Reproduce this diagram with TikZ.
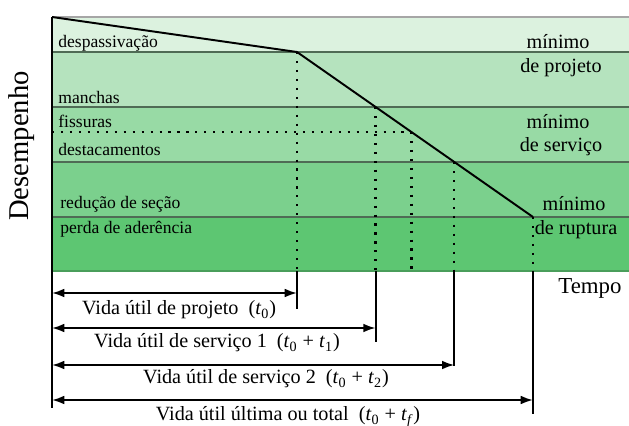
\documentclass[tikz,border=0pt]{standalone}
\usepackage{fontspec}
\setmainfont{Liberation Serif}
\usetikzlibrary{arrows.meta}
\definecolor{bandA}{HTML}{DCF2DF}
\definecolor{bandB}{HTML}{B5E3BE}
\definecolor{bandC}{HTML}{98DAA5}
\definecolor{bandD}{HTML}{7BD08D}
\definecolor{bandE}{HTML}{5DC672}
\definecolor{borderc}{HTML}{4F6B55}
\begin{document}
\begin{tikzpicture}[x=0.02cm,y=-0.02cm,
  bandborder/.style={draw=borderc,line width=0.9pt},
  curve/.style={draw=black,line width=1.1pt,line join=round},
  dotline/.style={draw=black,line width=1.3pt,dash pattern=on 1.2pt off 3.9pt},
  tick/.style={draw=black,line width=1.1pt},
  dimarrow/.style={draw=black,line width=1.1pt,{Latex[length=7pt,width=5pt]}-{Latex[length=7pt,width=5pt]}},
  leftlbl/.style={anchor=west,inner sep=0pt,font=\fontsize{10}{12}\selectfont},
  rightlbl/.style={inner sep=0pt,font=\fontsize{11.5}{13}\selectfont},
  dimlbl/.style={inner sep=0pt,font=\fontsize{11.5}{13}\selectfont}]
\useasboundingbox (0,0) rectangle (629,426);
% bands
\fill[bandA] (52,17) rectangle (629,52);
\fill[bandB] (52,52) rectangle (629,107);
\fill[bandC] (52,107) rectangle (629,162);
\fill[bandD] (52,162) rectangle (629,217);
\fill[bandE] (52,217) rectangle (629,271);
\draw[draw=gray!70,line width=0.9pt] (52,17) -- (629,17);
\draw[bandborder] (52,52) -- (629,52);
\draw[bandborder] (52,107) -- (629,107);
\draw[bandborder] (52,162) -- (629,162);
\draw[bandborder] (52,217) -- (629,217);
\draw[draw=bandE!80!black,line width=0.9pt] (52,271) -- (629,271);
% key points
\coordinate (p0) at (52,17);
\coordinate (p1) at (297,52);
\coordinate (q1) at (375.6,107);
\coordinate (qd) at (411.4,132);
\coordinate (q2) at (454.3,162);
\coordinate (p2) at (533,217);
\coordinate (h0) at (52,132);
\coordinate (b1) at (297,271);
\coordinate (b2) at (375.6,271);
\coordinate (bd) at (411.4,271);
\coordinate (b3) at (454.3,271);
\coordinate (b4) at (533,271);
\coordinate (e0) at (52,408);
\coordinate (e1) at (297,309);
\coordinate (e2) at (375.6,342);
\coordinate (e3) at (454.3,366);
\coordinate (e4) at (533,414);
\coordinate (a1l) at (52,293);
\coordinate (a1r) at (297,293);
\coordinate (a2l) at (52,328);
\coordinate (a2r) at (375.6,328);
\coordinate (a3l) at (52,365);
\coordinate (a3r) at (454.3,365);
\coordinate (a4l) at (52,400);
\coordinate (a4r) at (533,400);
% dotted lines
\draw[dotline] (h0) -- (qd);
\draw[dotline] (p1) -- (b1);
\draw[dotline] (q1) -- (b2);
\draw[dotline] (qd) -- (bd);
\draw[dotline] (q2) -- (b3);
\draw[dotline] (p2) -- (b4);
% performance curve
\draw[curve] (p0) -- (p1) -- (p2);
% axis and ticks
\draw[tick] (p0) -- (e0);
\draw[tick] (b1) -- (e1);
\draw[tick] (b2) -- (e2);
\draw[tick] (b3) -- (e3);
\draw[tick] (b4) -- (e4);
% dimension arrows
\draw[dimarrow] (a1l) -- (a1r);
\draw[dimarrow] (a2l) -- (a2r);
\draw[dimarrow] (a3l) -- (a3r);
\draw[dimarrow] (a4l) -- (a4r);
% left labels
\node[leftlbl] (despass) at (58,43) {despassivação};
\node[leftlbl] (manchas) at (58,97) {manchas};
\node[leftlbl] (fissuras) at (58,121) {fissuras};
\node[leftlbl] (destac) at (58,149) {destacamentos};
\node[leftlbl] (reducao) at (60,204) {redução de seção};
\node[leftlbl] (perda) at (60,229) {perda de aderência};
% right labels
\node[rightlbl] (min1) at (558,42) {mínimo};
\node[rightlbl] (proj) at (561,68) {de projeto};
\node[rightlbl] (min2) at (558,122) {mínimo};
\node[rightlbl] (serv) at (561,147) {de serviço};
\node[rightlbl] (min3) at (574,204) {mínimo};
\node[rightlbl] (rupt) at (576,230) {de ruptura};
% axis titles
\node[inner sep=0pt,rotate=90,font=\fontsize{16.3}{18}\selectfont] (desemp) at (22,146) {Desempenho};
\node[inner sep=0pt,font=\fontsize{13}{15}\selectfont] (tempo) at (590,288) {Tempo};
% dimension labels
\node[dimlbl] (d1) at (179,310) {Vida útil de projeto\ \ (\textit{t}\textsubscript{0})};
\node[dimlbl] (d2) at (217,343) {Vida útil de serviço 1\ \ (\textit{t}\textsubscript{0} + \textit{t}\textsubscript{1})};
\node[dimlbl] (d3) at (266,379) {Vida útil de serviço 2\ \ (\textit{t}\textsubscript{0} + \textit{t}\textsubscript{2})};
\node[dimlbl] (d4) at (288,417) {Vida útil última ou total\ \ (\textit{t}\textsubscript{0} + \textit{t}\textsubscript{\textit{f}})};
\end{tikzpicture}
\end{document}
